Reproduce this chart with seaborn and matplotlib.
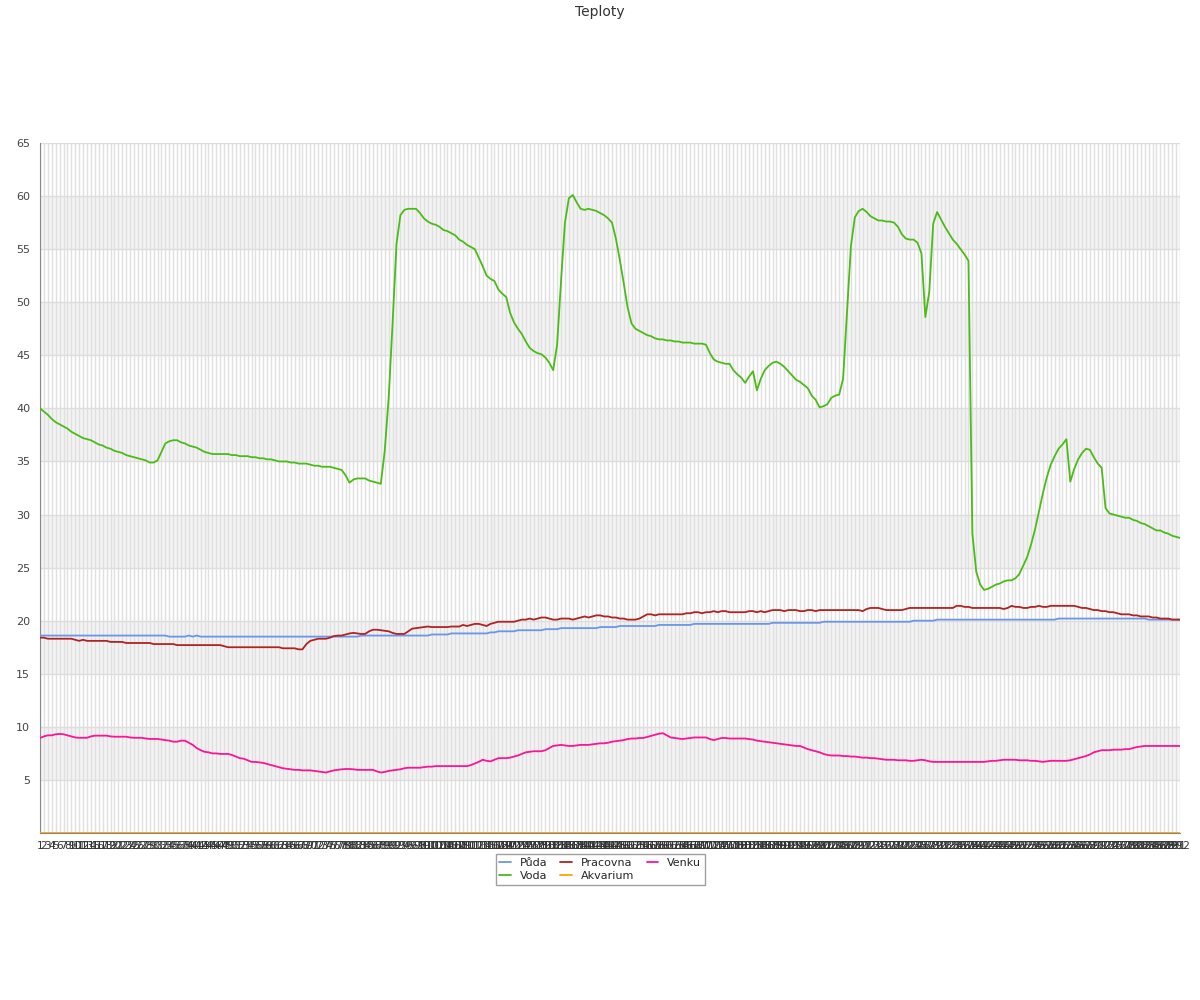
"""
plot.py

Teploty: five temperature series on a dense categorical x axis.
"""

import matplotlib
matplotlib.use("Agg")
import matplotlib.pyplot as plt
import numpy as np
import pandas as pd
import seaborn as sns


# ── Data ──────────────────────────────────────────────────────────────────────

puda = (
    [18.6] * 33
    + [18.5, 18.5, 18.5, 18.5, 18.5, 18.6, 18.5, 18.6, 18.5]
    + [18.5] * 40
    + [18.6] * 18
    + [18.7] * 5
    + [18.8] * 10
    + [18.9] * 2
    + [19.0] * 5
    + [19.1] * 7
    + [19.2] * 4
    + [19.3] * 10
    + [19.4] * 5
    + [19.5] * 10
    + [19.6] * 9
    + [19.7] * 20
    + [19.8] * 13
    + [19.9] * 23
    + [20.0] * 6
    + [20.1] * 31
    + [20.2] * 23
    + [20.1] * 9
)

pracovna = [
    18.4, 18.4, 18.3, 18.3, 18.3, 18.3, 18.3, 18.3, 18.3, 18.2,
    18.1, 18.2, 18.1, 18.1, 18.1, 18.1, 18.1, 18.1, 18.0, 18.0,
    18.0, 18.0, 17.9, 17.9, 17.9, 17.9, 17.9, 17.9, 17.9, 17.8,
    17.8, 17.8, 17.8, 17.8, 17.8, 17.7, 17.7, 17.7, 17.7, 17.7,
    17.7, 17.7, 17.7, 17.7, 17.7, 17.7, 17.7, 17.6, 17.5, 17.5,
    17.5, 17.5, 17.5, 17.5, 17.5, 17.5, 17.5, 17.5, 17.5, 17.5,
    17.5, 17.5, 17.4, 17.4, 17.4, 17.4, 17.3, 17.3, 17.8, 18.1,
    18.2, 18.3, 18.3, 18.3, 18.4, 18.55, 18.6, 18.6, 18.7, 18.8,
    18.85, 18.8, 18.75, 18.75, 19.0, 19.15, 19.15, 19.1, 19.05, 19.0,
    18.85, 18.75, 18.75, 18.75, 19.0, 19.25, 19.3, 19.35, 19.4, 19.45,
    19.4, 19.4, 19.4, 19.4, 19.4, 19.45, 19.45, 19.45, 19.6, 19.5,
    19.6, 19.7, 19.7, 19.6, 19.5, 19.7, 19.8, 19.9, 19.9, 19.9,
    19.9, 19.9, 20.0, 20.1, 20.1, 20.2, 20.1, 20.2, 20.3, 20.3,
    20.2, 20.1, 20.1, 20.2, 20.2, 20.2, 20.1, 20.2, 20.3, 20.4,
    20.3, 20.4, 20.5, 20.5, 20.4, 20.4, 20.3, 20.3, 20.2, 20.2,
    20.1, 20.1, 20.1, 20.2, 20.4, 20.6, 20.6, 20.5, 20.6, 20.6,
    20.6, 20.6, 20.6, 20.6, 20.6, 20.7, 20.7, 20.8, 20.8, 20.7,
    20.8, 20.8, 20.9, 20.8, 20.9, 20.9, 20.8, 20.8, 20.8, 20.8,
    20.8, 20.9, 20.9, 20.8, 20.9, 20.8, 20.9, 21.0, 21.0, 21.0,
    20.9, 21.0, 21.0, 21.0, 20.9, 20.9, 21.0, 21.0, 20.9, 21.0,
    21.0, 21.0, 21.0, 21.0, 21.0, 21.0, 21.0, 21.0, 21.0, 21.0,
    20.9, 21.1, 21.2, 21.2, 21.2, 21.1, 21.0, 21.0, 21.0, 21.0,
    21.0, 21.1, 21.2, 21.2, 21.2, 21.2, 21.2, 21.2, 21.2, 21.2,
    21.2, 21.2, 21.2, 21.2, 21.4, 21.4, 21.3, 21.3, 21.2, 21.2,
    21.2, 21.2, 21.2, 21.2, 21.2, 21.2, 21.1, 21.2, 21.4, 21.3,
    21.3, 21.2, 21.2, 21.3, 21.3, 21.4, 21.3, 21.3, 21.4, 21.4,
    21.4, 21.4, 21.4, 21.4, 21.4, 21.3, 21.2, 21.2, 21.1, 21.0,
    21.0, 20.9, 20.9, 20.8, 20.8, 20.7, 20.6, 20.6, 20.6, 20.5,
    20.5, 20.4, 20.4, 20.4, 20.3, 20.3, 20.2, 20.2, 20.2, 20.1,
    20.1, 20.1,
]

venku = [
    8.95, 9.1, 9.2, 9.2, 9.3, 9.33, 9.3, 9.2, 9.1, 9.0,
    8.97, 8.97, 8.97, 9.1, 9.17, 9.17, 9.17, 9.17, 9.1, 9.07,
    9.07, 9.07, 9.07, 9.0, 8.97, 8.97, 8.97, 8.9, 8.86, 8.86,
    8.86, 8.8, 8.75, 8.7, 8.6, 8.6, 8.7, 8.7, 8.5, 8.3,
    8.0, 7.8, 7.65, 7.6, 7.5, 7.5, 7.45, 7.45, 7.45, 7.35,
    7.2, 7.05, 7.0, 6.85, 6.7, 6.7, 6.65, 6.6, 6.5, 6.4,
    6.3, 6.2, 6.1, 6.05, 6.0, 5.95, 5.95, 5.9, 5.9, 5.9,
    5.85, 5.8, 5.75, 5.7, 5.8, 5.9, 5.95, 6.0, 6.03, 6.03,
    6.0, 5.95, 5.95, 5.95, 5.95, 5.95, 5.8, 5.7, 5.75, 5.85,
    5.9, 5.95, 6.0, 6.1, 6.15, 6.15, 6.15, 6.15, 6.2, 6.25,
    6.25, 6.3, 6.3, 6.3, 6.3, 6.3, 6.3, 6.3, 6.3, 6.3,
    6.4, 6.55, 6.7, 6.9, 6.8, 6.75, 6.9, 7.05, 7.05, 7.05,
    7.1, 7.2, 7.3, 7.45, 7.6, 7.65, 7.7, 7.7, 7.7, 7.8,
    8.0, 8.2, 8.25, 8.3, 8.25, 8.2, 8.2, 8.25, 8.3, 8.3,
    8.3, 8.35, 8.4, 8.45, 8.45, 8.5, 8.6, 8.65, 8.7, 8.75,
    8.85, 8.9, 8.9, 8.95, 8.95, 9.05, 9.15, 9.25, 9.35, 9.4,
    9.2, 9.0, 8.95, 8.9, 8.85, 8.9, 8.95, 9.0, 9.0, 9.0,
    9.0, 8.85, 8.75, 8.85, 8.95, 8.95, 8.9, 8.9, 8.9, 8.9,
    8.9, 8.85, 8.8, 8.7, 8.65, 8.6, 8.55, 8.5, 8.45, 8.4,
    8.35, 8.3, 8.25, 8.2, 8.2, 8.05, 7.9, 7.8, 7.7, 7.6,
    7.45, 7.35, 7.3, 7.3, 7.3, 7.25, 7.25, 7.2, 7.2, 7.15,
    7.1, 7.1, 7.05, 7.05, 7.0, 6.95, 6.9, 6.9, 6.9, 6.85,
    6.85, 6.85, 6.8, 6.8, 6.85, 6.9, 6.85, 6.75, 6.7, 6.7,
    6.7, 6.7, 6.7, 6.7, 6.7, 6.7, 6.7, 6.7, 6.7, 6.7,
    6.7, 6.7, 6.75, 6.8, 6.8, 6.85, 6.9, 6.9, 6.9, 6.9,
    6.85, 6.85, 6.85, 6.8, 6.8, 6.75, 6.7, 6.75, 6.8, 6.8,
    6.8, 6.8, 6.8, 6.85, 6.95, 7.05, 7.15, 7.25, 7.4, 7.6,
    7.7, 7.8, 7.8, 7.8, 7.85, 7.85, 7.85, 7.9, 7.9, 8.0,
    8.1, 8.15, 8.2, 8.2, 8.2, 8.2, 8.2, 8.2, 8.2, 8.2,
    8.2, 8.2,
]

voda = [
    40.0, 39.7, 39.4, 39.0, 38.7, 38.5, 38.3, 38.1, 37.8, 37.6,
    37.4, 37.2, 37.1, 37.0, 36.8, 36.6, 36.5, 36.3, 36.2, 36.0,
    35.9, 35.8, 35.6, 35.5, 35.4, 35.3, 35.2, 35.1, 34.9, 34.9,
    35.1, 35.9, 36.7, 36.9, 37.0, 37.0, 36.8, 36.7, 36.5, 36.4,
    36.3, 36.1, 35.9, 35.8, 35.7, 35.7, 35.7, 35.7, 35.7, 35.6,
    35.6, 35.5, 35.5, 35.5, 35.4, 35.4, 35.3, 35.3, 35.2, 35.2,
    35.1, 35.0, 35.0, 35.0, 34.9, 34.9, 34.8, 34.8, 34.8, 34.7,
    34.6, 34.6, 34.5, 34.5, 34.5, 34.4, 34.3, 34.2, 33.7, 33.0,
    33.3, 33.4, 33.4, 33.4, 33.2, 33.1, 33.0, 32.9, 36.0, 41.0,
    48.0, 55.5, 58.2, 58.7, 58.8, 58.8, 58.8, 58.4, 57.9, 57.6,
    57.4, 57.3, 57.1, 56.8, 56.7, 56.5, 56.3, 55.9, 55.7, 55.4,
    55.2, 55.0, 54.2, 53.4, 52.5, 52.2, 52.0, 51.2, 50.8, 50.5,
    49.0, 48.1, 47.5, 47.0, 46.3, 45.7, 45.4, 45.2, 45.1, 44.8,
    44.3, 43.6, 46.0, 52.0, 57.5, 59.8, 60.1, 59.4, 58.8, 58.7,
    58.8, 58.7, 58.6, 58.4, 58.2, 57.9, 57.5, 56.0, 54.0, 51.8,
    49.5, 48.0, 47.5, 47.3, 47.1, 46.9, 46.8, 46.6, 46.5, 46.5,
    46.4, 46.4, 46.3, 46.3, 46.2, 46.2, 46.2, 46.1, 46.1, 46.1,
    46.0, 45.2, 44.6, 44.4, 44.3, 44.2, 44.2, 43.6, 43.2, 42.9,
    42.4, 43.0, 43.5, 41.7, 42.8, 43.6, 44.0, 44.3, 44.4, 44.2,
    43.9, 43.5, 43.1, 42.7, 42.5, 42.2, 41.9, 41.2, 40.8, 40.1,
    40.2, 40.4, 41.0, 41.2, 41.3, 42.8, 49.0, 55.3, 58.0, 58.6,
    58.8, 58.5, 58.1, 57.9, 57.7, 57.7, 57.6, 57.6, 57.5, 57.1,
    56.4, 56.0, 55.9, 55.9, 55.6, 54.6, 48.6, 51.0, 57.4, 58.5,
    57.8, 57.1, 56.5, 55.9, 55.5, 55.0, 54.5, 53.9, 28.2, 24.6,
    23.4, 22.9, 23.0, 23.2, 23.4, 23.5, 23.7, 23.8, 23.8, 24.0,
    24.4, 25.2, 26.0, 27.2, 28.6, 30.3, 32.0, 33.5, 34.7, 35.5,
    36.2, 36.6, 37.1, 33.1, 34.3, 35.2, 35.8, 36.2, 36.1, 35.4,
    34.8, 34.4, 30.6, 30.1, 30.0, 29.9, 29.8, 29.7, 29.7, 29.5,
    29.4, 29.2, 29.1, 28.9, 28.7, 28.5, 28.5, 28.3, 28.2, 28.0,
    27.9, 27.8,
]

akvarium = [0.0] * len(voda)

series_names = ["Půda", "Voda", "Pracovna", "Akvarium", "Venku"]
series_colors = ["#6b96e8", "#4cbb17", "#b22222", "#ffa200", "#ff1493"]

n_points = len(voda)
x_labels = [str(i + 1) for i in range(n_points)]


# ── Long-form frame for seaborn ───────────────────────────────────────────────

df = pd.DataFrame({
    "idx": np.arange(n_points),
    "Půda": puda,
    "Voda": voda,
    "Pracovna": pracovna,
    "Akvarium": akvarium,
    "Venku": venku,
})
long_df = df.melt(id_vars="idx", var_name="series", value_name="temp")


# ── Plot ──────────────────────────────────────────────────────────────────────

sns.set_style("white")
plt.rcParams["font.family"] = ["DejaVu Sans"]

fig = plt.figure(figsize=(12, 10), dpi=100)
ax = fig.add_axes([40 / 1200, 1 - 833 / 1000, 1140 / 1200, 690 / 1000])

# alternating bands
for lo in range(5, 60, 10):
    ax.axhspan(lo, lo + 5, color="#f3f3f3", zorder=0, lw=0)

sns.lineplot(
    data=long_df, x="idx", y="temp", hue="series",
    hue_order=series_names,
    palette=dict(zip(series_names, series_colors)),
    linewidth=1.3, ax=ax, zorder=3,
)

ax.set_xlim(0, n_points - 1)
ax.set_ylim(0, 65)
ax.set_xticks(np.arange(n_points))
ax.set_xticklabels(x_labels, fontsize=7.5, color="#333333")
ax.set_yticks(range(5, 66, 5))
ax.set_yticks(range(0, 66), minor=True)
ax.tick_params(axis="y", which="major", labelsize=8, labelcolor="#444444",
               length=5, color="#888888", pad=2)
ax.tick_params(axis="y", which="minor", length=3, color="#888888")
ax.tick_params(axis="x", length=0, pad=6)
ax.grid(axis="x", color="#e0e0e0", linewidth=1, zorder=1)
ax.grid(axis="y", which="major", color="#dddddd", linewidth=1, zorder=1)
ax.set_axisbelow(True)

for side in ["top", "right"]:
    ax.spines[side].set_visible(False)
ax.spines["left"].set_color("#888888")
ax.spines["bottom"].set_color("#888888")

ax.set_xlabel("")
ax.set_ylabel("")

fig.suptitle("Teploty", y=0.995, fontsize=10, color="#333333")

ax.legend(
    loc="upper center", bbox_to_anchor=(0.4915, -0.022),
    ncol=3, fontsize=8, frameon=True, fancybox=False,
    edgecolor="#888888", handlelength=1.0, columnspacing=1.2,
    handletextpad=0.8, borderpad=0.35, labelspacing=0.3,
)

fig.savefig("out.png", dpi=100)
